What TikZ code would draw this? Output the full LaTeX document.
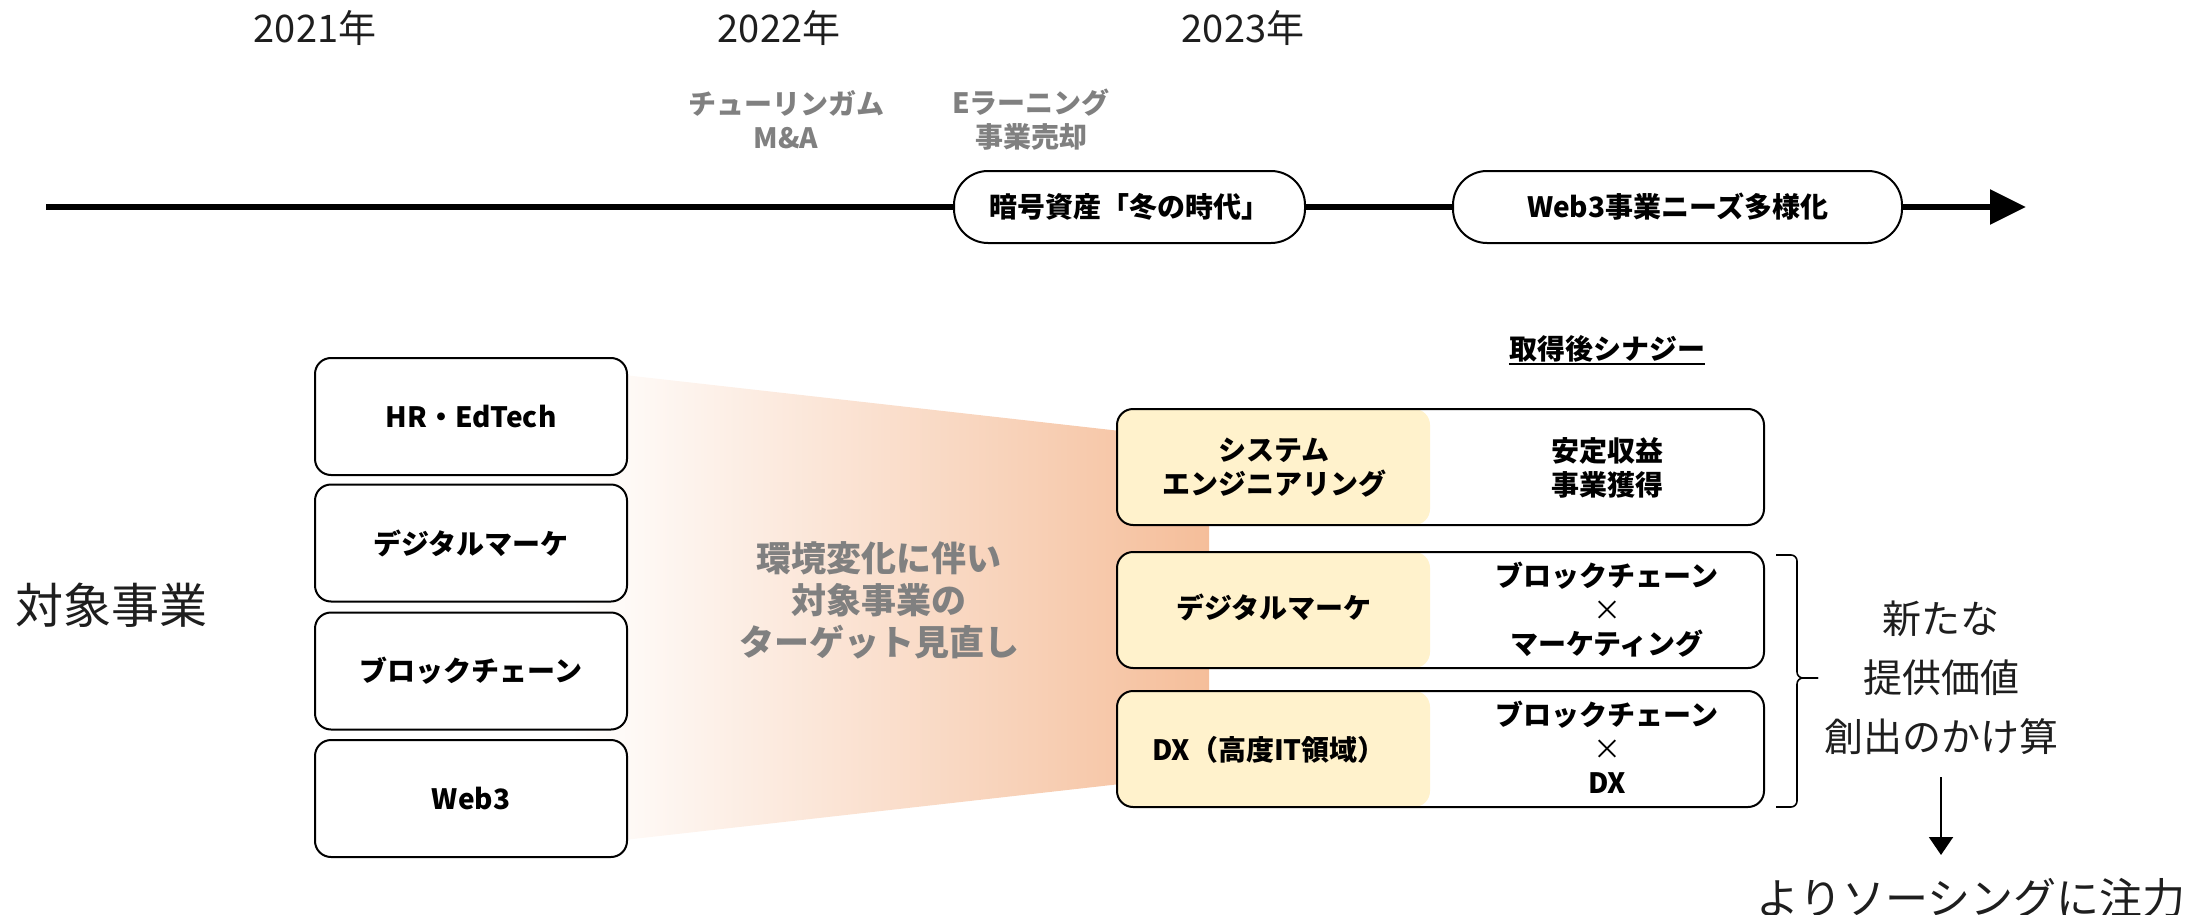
\documentclass[tikz,border=0pt]{standalone}
\usepackage{fontspec}
\setmainfont{Noto Sans CJK JP}
\usetikzlibrary{arrows.meta}
\definecolor{peach}{HTML}{F5BE9A}
\definecolor{cream}{HTML}{FFF2CC}
\definecolor{graytxt}{HTML}{808080}
\definecolor{darktxt}{HTML}{1E1E1E}
\pgfdeclarehorizontalshading{funnelshade}{100bp}{color(0bp)=(white); color(30bp)=(white); color(75bp)=(peach); color(100bp)=(peach)}
\newcommand{\fs}[2]{\fontsize{#1}{#2}\selectfont}
\tikzset{
  tline/.style={line width=6pt},
  tbox/.style={draw, line width=2pt, rounded corners=34pt, fill=white, minimum height=72pt, inner sep=0pt, font=\bfseries\fs{28}{34}},
  lbox/.style={draw, line width=2pt, rounded corners=16pt, fill=white, minimum width=312pt, minimum height=117pt, inner sep=0pt, font=\bfseries\fs{28}{34}},
  rbox/.style={draw, line width=2pt, rounded corners=16pt, minimum width=647pt, minimum height=116pt, inner sep=0pt},
  rtxt/.style={align=center, inner sep=0pt, font=\bfseries\fs{28}{34}},
  year/.style={inner sep=0pt, text=darktxt, font=\fs{38}{44}},
  glabel/.style={align=center, inner sep=0pt, text=graytxt, font=\bfseries\fs{28}{34}},
  bigtxt/.style={inner sep=0pt, text=darktxt, align=center},
}
\begin{document}
\begin{tikzpicture}[x=1pt,y=-1pt]
\useasboundingbox (0,0) rectangle (2190,915);
% years
\node[year] (y1) at (315,28) {2021年};
\node[year] (y2) at (779,28) {2022年};
\node[year] (y3) at (1243,28) {2023年};
% event labels
\node[glabel] (ev1) at (786,120) {チューリンガム\\M\&A};
\node[glabel] (ev2) at (1031,120) {Eラーニング\\事業売却};
% timeline
\coordinate (ts) at (46,207);
\coordinate (te) at (2026,207);
\node[tbox, minimum width=351pt] (t1) at (1129.5,207) {暗号資産「冬の時代」};
\node[tbox, minimum width=449pt] (t2) at (1677.5,207) {Web3事業ニーズ多様化};
\draw[tline] (ts) -- (t1.west);
\draw[tline] (t1.east) -- (t2.west);
\draw[tline, -{Triangle[length=36pt,width=34pt]}] (t2.east) -- (te);
% gradient funnel
\shade[shading=funnelshade] (500,361) -- (1209,441) -- (1209,774) -- (500,854) -- cycle;
% left label
\node[bigtxt, font=\fs{48}{56}] (obj) at (112,605) {対象事業};
% left boxes
\node[lbox] (l1) at (471,416.5) {HR・EdTech};
\node[lbox] (l2) at (471,543) {デジタルマーケ};
\node[lbox] (l3) at (471,671) {ブロックチェーン};
\node[lbox] (l4) at (471,798.5) {Web3};
% middle text
\node[glabel, font=\bfseries\fs{35}{42}] (mid) at (879,600) {環境変化に伴い\\対象事業の\\ターゲット見直し};
% synergy title
\node[rtxt] (syn) at (1607,349) {取得後シナジー};
\coordinate (ul) at (0,364);
\draw[line width=2pt] (syn.west |- ul) -- (syn.east |- ul);
% right boxes backgrounds
\foreach \yc in {467,610,749}{
  \fill[white, rounded corners=16pt] (1117,\yc-58) rectangle (1764,\yc+58);
  \fill[cream, rounded corners=16pt] (1117,\yc-58) rectangle (1430,\yc+58);
}
\node[rbox] (r1) at (1440.5,467) {};
\node[rbox] (r2) at (1440.5,610) {};
\node[rbox] (r3) at (1440.5,749) {};
% right box texts
\node[rtxt] (r1a) at (1274,468) {システム\\エンジニアリング};
\node[rtxt] (r1b) at (1607,468) {安定収益\\事業獲得};
\node[rtxt] (r2a) at (1274,607) {デジタルマーケ};
\node[rtxt] (r2b) at (1607,610) {ブロックチェーン\\{\mdseries ×}\\マーケティング};
\node[rtxt] (r3a) at (1269,750) {DX（高度IT領域）};
\node[rtxt] (r3b) at (1607,747) {ブロックチェーン\\{\mdseries ×}\\DX};
% brace
\draw[line width=1.6pt, rounded corners=6pt] (1776,555) -- (1797,555) -- (1797,678) -- (1818,678);
\draw[line width=1.6pt, rounded corners=6pt] (1818,678) -- (1797,678) -- (1797,807) -- (1776,807);
% new value text
\node[bigtxt, font=\fs{39}{59}] (nv) at (1941,678) {新たな\\提供価値\\創出のかけ算};
% sourcing
\node[bigtxt, font=\fs{43}{50}] (src) at (1971,898) {よりソーシングに注力};
\coordinate (a1) at (1941,777);
\coordinate (a2) at (1941,855);
\draw[line width=2pt, -{Triangle[length=18pt,width=24pt]}] (a1) -- (a2);
\end{tikzpicture}
\end{document}
